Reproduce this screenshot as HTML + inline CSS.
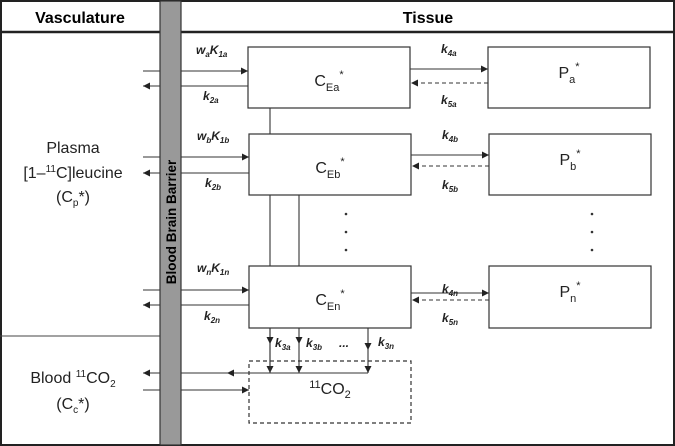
<!DOCTYPE html>
<html><head><style>
body{margin:0;background:#fff}
svg{display:block;font-family:"Liberation Sans",Arial,sans-serif}
.b{font-weight:bold;font-style:italic;font-size:12px}
</style></head><body>
<svg width="675" height="446" viewBox="0 0 675 446">
<defs>
<marker id="a" markerWidth="8" markerHeight="8" refX="7" refY="4" orient="auto" markerUnits="userSpaceOnUse"><path d="M0,0.5 L7,4 L0,7.5z" fill="#222"/></marker>
<marker id="m" markerWidth="8" markerHeight="8" refX="4" refY="4" orient="auto" markerUnits="userSpaceOnUse"><path d="M0,0.5 L7,4 L0,7.5z" fill="#222"/></marker>
</defs>
<rect x="1" y="1" width="673" height="444" fill="#fff" stroke="#222" stroke-width="2"/>
<line x1="0" y1="32" x2="675" y2="32" stroke="#222" stroke-width="2.5"/>
<line x1="0" y1="336" x2="160" y2="336" stroke="#444" stroke-width="1"/>
<rect x="160" y="1" width="21" height="444" fill="#999" stroke="#333" stroke-width="1.2"/>
<text x="80" y="23" text-anchor="middle" font-weight="bold" font-size="16">Vasculature</text>
<text x="428" y="23" text-anchor="middle" font-weight="bold" font-size="16">Tissue</text>
<text transform="translate(176,222) rotate(-90)" text-anchor="middle" font-weight="bold" font-size="13.5">Blood Brain Barrier</text>
<g font-size="16" text-anchor="middle" fill="#222">
<text x="73" y="153">Plasma</text>
<text x="73" y="178">[1–<tspan font-size="10" dy="-6">11</tspan><tspan dy="6">C]leucine</tspan></text>
<text x="73" y="202">(C<tspan font-size="10" dy="4">p</tspan><tspan dy="-4">*)</tspan></text>
<text x="73" y="383">Blood <tspan font-size="10" dy="-6">11</tspan><tspan dy="6">CO</tspan><tspan font-size="10" dy="4">2</tspan></text>
<text x="73" y="409">(C<tspan font-size="10" dy="4">c</tspan><tspan dy="-4">*)</tspan></text>
</g>
<g fill="#fff" stroke="#333" stroke-width="1.2">
<rect x="248" y="47" width="162" height="61"/>
<rect x="249" y="134" width="162" height="61"/>
<rect x="249" y="266" width="162" height="62"/>
<rect x="488" y="47" width="162" height="61"/>
<rect x="489" y="134" width="162" height="61"/>
<rect x="489" y="266" width="162" height="62"/>
<rect x="249" y="361" width="162" height="62" stroke-dasharray="4,3"/>
</g>
<g font-size="16" text-anchor="middle" fill="#222">
<text x="329" y="86">C<tspan font-size="11" dy="5">Ea</tspan><tspan font-size="11" dy="-13">*</tspan></text>
<text x="330" y="173">C<tspan font-size="11" dy="5">Eb</tspan><tspan font-size="11" dy="-13">*</tspan></text>
<text x="330" y="305">C<tspan font-size="11" dy="5">En</tspan><tspan font-size="11" dy="-13">*</tspan></text>
<text x="569" y="78">P<tspan font-size="11" dy="5">a</tspan><tspan font-size="11" dy="-13">*</tspan></text>
<text x="570" y="165">P<tspan font-size="11" dy="5">b</tspan><tspan font-size="11" dy="-13">*</tspan></text>
<text x="570" y="297">P<tspan font-size="11" dy="5">n</tspan><tspan font-size="11" dy="-13">*</tspan></text>
<text x="330" y="394"><tspan font-size="11" dy="-6">11</tspan><tspan dy="6">CO</tspan><tspan font-size="11" dy="4">2</tspan></text>
</g>
<g stroke="#333" stroke-width="1.1" fill="none">
<line x1="143" y1="71" x2="160" y2="71"/><line x1="181" y1="71" x2="248" y2="71" marker-end="url(#a)"/>
<line x1="160" y1="86" x2="143" y2="86" marker-end="url(#a)"/><line x1="248" y1="86" x2="181" y2="86"/>
<line x1="143" y1="157" x2="160" y2="157"/><line x1="181" y1="157" x2="249" y2="157" marker-end="url(#a)"/>
<line x1="160" y1="173" x2="143" y2="173" marker-end="url(#a)"/><line x1="249" y1="173" x2="181" y2="173"/>
<line x1="143" y1="290" x2="160" y2="290"/><line x1="181" y1="290" x2="249" y2="290" marker-end="url(#a)"/>
<line x1="160" y1="305" x2="143" y2="305" marker-end="url(#a)"/><line x1="249" y1="305" x2="181" y2="305"/>
<line x1="410" y1="69" x2="488" y2="69" marker-end="url(#a)"/>
<line x1="488" y1="83" x2="411" y2="83" stroke-dasharray="4,3" marker-end="url(#a)"/>
<line x1="411" y1="155" x2="489" y2="155" marker-end="url(#a)"/>
<line x1="489" y1="166" x2="412" y2="166" stroke-dasharray="4,3" marker-end="url(#a)"/>
<line x1="411" y1="293" x2="489" y2="293" marker-end="url(#a)"/>
<line x1="489" y1="300" x2="412" y2="300" stroke-dasharray="4,3" marker-end="url(#a)"/>
<line x1="270" y1="108" x2="270" y2="134"/>
<line x1="270" y1="195" x2="270" y2="266"/>
<line x1="299" y1="195" x2="299" y2="266"/>
<line x1="270" y1="328" x2="270" y2="373" marker-mid="url(#m)" marker-end="url(#a)"/>
<polyline points="270,328 270,341 270,373" marker-mid="url(#m)"/>
<polyline points="299,328 299,341 299,373" marker-mid="url(#m)" marker-end="url(#a)"/>
<polyline points="368,328 368,347 368,373" marker-mid="url(#m)" marker-end="url(#a)"/>
<polyline points="368,373 230,373 181,373" marker-mid="url(#m)"/>
<line x1="160" y1="373" x2="143" y2="373" marker-end="url(#a)"/>
<line x1="143" y1="390" x2="160" y2="390"/><line x1="181" y1="390" x2="249" y2="390" marker-end="url(#a)"/>
</g>
<g fill="#222">
<text class="b" x="196" y="54">w<tspan font-size="8" dy="3">a</tspan><tspan dy="-3">K</tspan><tspan font-size="8" dy="3">1a</tspan></text>
<text class="b" x="203" y="100">k<tspan font-size="8" dy="3">2a</tspan></text>
<text class="b" x="197" y="140">w<tspan font-size="8" dy="3">b</tspan><tspan dy="-3">K</tspan><tspan font-size="8" dy="3">1b</tspan></text>
<text class="b" x="205" y="187">k<tspan font-size="8" dy="3">2b</tspan></text>
<text class="b" x="197" y="272">w<tspan font-size="8" dy="3">n</tspan><tspan dy="-3">K</tspan><tspan font-size="8" dy="3">1n</tspan></text>
<text class="b" x="204" y="320">k<tspan font-size="8" dy="3">2n</tspan></text>
<text class="b" x="441" y="53">k<tspan font-size="8" dy="3">4a</tspan></text>
<text class="b" x="441" y="104">k<tspan font-size="8" dy="3">5a</tspan></text>
<text class="b" x="442" y="139">k<tspan font-size="8" dy="3">4b</tspan></text>
<text class="b" x="442" y="189">k<tspan font-size="8" dy="3">5b</tspan></text>
<text class="b" x="442" y="293">k<tspan font-size="8" dy="3">4n</tspan></text>
<text class="b" x="442" y="322">k<tspan font-size="8" dy="3">5n</tspan></text>
<text class="b" x="275" y="347">k<tspan font-size="8" dy="3">3a</tspan></text>
<text class="b" x="306" y="347">k<tspan font-size="8" dy="3">3b</tspan></text>
<text class="b" x="339" y="347" font-size="14">...</text>
<text class="b" x="378" y="346">k<tspan font-size="8" dy="3">3n</tspan></text>
</g>
<g fill="#333">
<circle cx="346" cy="214" r="1.3"/><circle cx="346" cy="232" r="1.3"/><circle cx="346" cy="250" r="1.3"/>
<circle cx="592" cy="214" r="1.3"/><circle cx="592" cy="232" r="1.3"/><circle cx="592" cy="250" r="1.3"/>
</g>
</svg>
</body></html>
